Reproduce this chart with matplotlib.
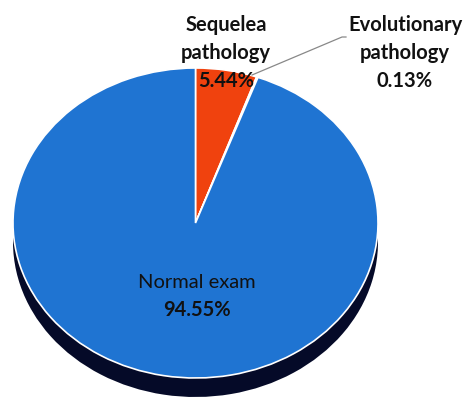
import matplotlib.pyplot as plt

# Anteile der Befunde (im Uhrzeigersinn ab 12 Uhr)
labels = ["Sequelea\npathology", "Evolutionary\npathology", "Normal exam"]
values = [5.44, 0.13, 94.55]
pct_labels = ["5.44%", "0.13%", "94.55%"]
colors = ["#F0420E", "#D9D9D9", "#1F74D2"]

plt.rcParams['font.family'] = ['Lato', 'DejaVu Sans']

W, H = 468, 398
cx, cy, rx, ry = 195.5, 223, 182.5, 155
depth = 19

def px(x, y):
    # Pixel -> Datenkoordinaten
    return (x - cx) / rx, (cy - y) / ry

fig = plt.figure(figsize=(W / 100, H / 100), dpi=100)
ax = fig.add_axes([0, 0, 1, 1])

# Seitenflaeche (3D-Effekt)
ax.pie(values, startangle=90, counterclock=False, colors=["#050a28"] * 3,
       center=(0, -depth / ry), wedgeprops=dict(linewidth=0))
# Oberseite
ax.pie(values, startangle=90, counterclock=False, colors=colors,
       wedgeprops=dict(edgecolor="white", linewidth=1.2))

ax.set_aspect('auto')
ax.set_xlim(-cx / rx, (W - cx) / rx)
ax.set_ylim((cy - H) / ry, cy / ry)
ax.axis('off')

fs = 14.5
txt = dict(ha='center', va='center', fontsize=fs, color='#111111')

# Beschriftungen oben, jede Zeile einzeln
for xc, lab, pct in [(226, labels[0], pct_labels[0]), (405, labels[1], pct_labels[1])]:
    rows = lab.split("\n") + [pct]
    for i, row in enumerate(rows):
        ax.text(*px(xc, 25 + 28 * i), row, fontweight='bold', **txt)

# Normal exam
ax.text(*px(197, 283), labels[2], **txt)
ax.text(*px(197, 310), pct_labels[2], fontweight='bold', **txt)

# Fuehrungslinie zum kleinen Segment
x0, y0 = px(252, 75)
x1, y1 = px(342, 37)
x2, y2 = px(346, 37)
ax.plot([x0, x1, x2], [y0, y1, y2], color='#888888', lw=0.9, clip_on=False)

fig.savefig("out.png", dpi=100)
